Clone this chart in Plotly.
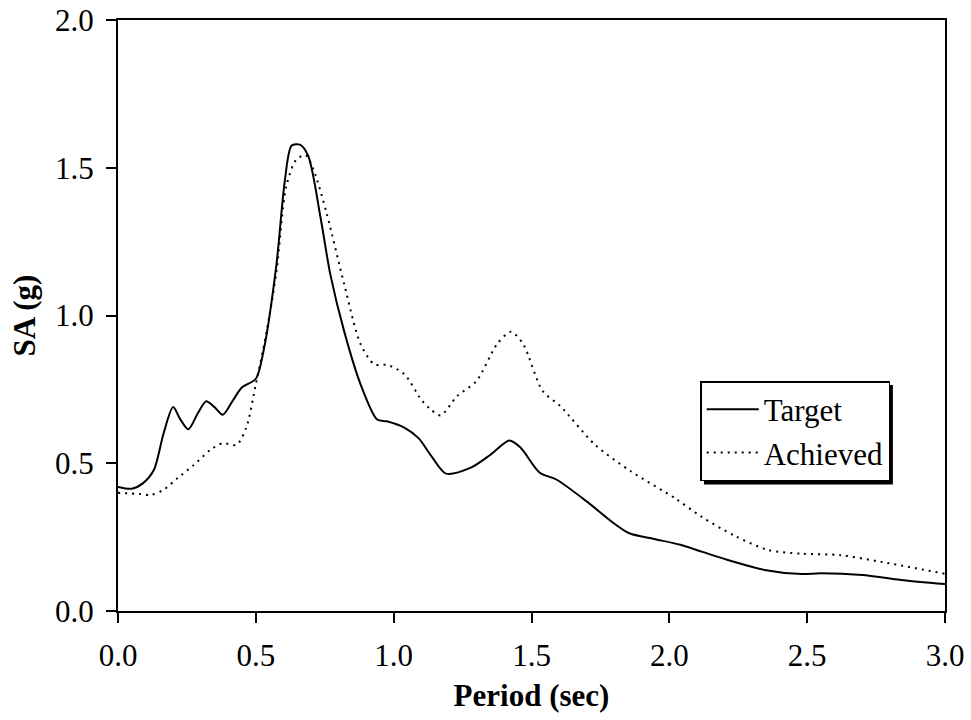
import plotly.graph_objects as go

# Target response spectrum (period in sec, spectral acceleration in g)
target_period = [0.0, 0.05, 0.09, 0.13, 0.165, 0.20, 0.225, 0.255, 0.29, 0.32, 0.35, 0.38,
                 0.415, 0.45, 0.50, 0.53, 0.575, 0.605, 0.63, 0.66, 0.69, 0.735, 0.77, 0.82,
                 0.88, 0.94, 0.975, 1.04, 1.09, 1.14, 1.19, 1.28, 1.35, 1.42, 1.46, 1.53,
                 1.59, 1.70, 1.79, 1.855, 1.945, 2.04, 2.12, 2.225, 2.345, 2.48, 2.55,
                 2.70, 2.84, 3.0]
target_sa = [0.42, 0.414, 0.432, 0.477, 0.60, 0.69, 0.65, 0.615, 0.67, 0.71, 0.69, 0.664,
             0.71, 0.757, 0.786, 0.89, 1.175, 1.455, 1.575, 1.578, 1.54, 1.33, 1.14, 0.948,
             0.767, 0.648, 0.642, 0.62, 0.585, 0.52, 0.465, 0.485, 0.528, 0.577, 0.553, 0.468,
             0.445, 0.371, 0.303, 0.263, 0.244, 0.224, 0.200, 0.169, 0.139, 0.125, 0.128,
             0.122, 0.105, 0.091]

# Achieved response spectrum
achieved_period = [0.0, 0.08, 0.12, 0.165, 0.215, 0.275, 0.335, 0.38, 0.43, 0.465, 0.50, 0.54,
                   0.575, 0.61, 0.645, 0.68, 0.71, 0.757, 0.82, 0.88, 0.93, 0.98, 1.04, 1.10,
                   1.13, 1.17, 1.23, 1.30, 1.375, 1.425, 1.47, 1.54, 1.605, 1.73, 1.86, 2.02,
                   2.115, 2.236, 2.36, 2.48, 2.62, 2.77, 3.0]
achieved_sa = [0.40, 0.396, 0.393, 0.41, 0.449, 0.494, 0.545, 0.568, 0.562, 0.62, 0.767, 0.95,
               1.15, 1.435, 1.525, 1.543, 1.492, 1.345, 1.108, 0.903, 0.835, 0.832, 0.80, 0.715,
               0.686, 0.662, 0.727, 0.778, 0.903, 0.945, 0.903, 0.745, 0.693, 0.563, 0.473, 0.382,
               0.32, 0.255, 0.206, 0.194, 0.189, 0.166, 0.126]

x_ticks = [0.0, 0.5, 1.0, 1.5, 2.0, 2.5, 3.0]
y_ticks = [0.0, 0.5, 1.0, 1.5, 2.0]

FONT = "Liberation Serif, Times New Roman, serif"

fig = go.Figure()
fig.add_trace(go.Scatter(
    x=target_period, y=target_sa, mode="lines", name="Target",
    line=dict(color="black", width=2, shape="spline", smoothing=0.8),
))
fig.add_trace(go.Scatter(
    x=achieved_period, y=achieved_sa, mode="lines", name="Achieved",
    line=dict(color="black", width=2, dash="2px,5px", shape="spline", smoothing=0.8),
))

# drop shadow behind the legend box
fig.add_shape(type="rect", xref="paper", yref="paper",
              x0=0.7086, x1=0.937, y0=0.214, y1=0.3824,
              fillcolor="black", line=dict(width=0), layer="above")

axis_common = dict(
    showline=True, linecolor="black", linewidth=2, mirror=True,
    ticks="outside", ticklen=10, tickwidth=1.5, tickcolor="black",
    showgrid=False, zeroline=False, tickformat=".1f", automargin=False,
    ticklabelstandoff=6,
    tickfont=dict(family=FONT, size=31, color="black"),
)

fig.update_layout(
    width=971, height=720,
    margin=dict(l=118, r=26, t=20, b=109),
    paper_bgcolor="white", plot_bgcolor="white",
    font=dict(family=FONT, size=31, color="black"),
    xaxis=dict(range=[0, 3], tickvals=x_ticks, **axis_common,
               title=dict(text="<b>Period (sec)</b>", standoff=12,
                          font=dict(family=FONT, size=31, color="black"))),
    yaxis=dict(range=[0, 2], tickvals=y_ticks, **axis_common,
               title=dict(text="<b>SA (g)</b>", standoff=10,
                          font=dict(family=FONT, size=31, color="black"))),
    legend=dict(x=0.704, y=0.389, xanchor="left", yanchor="top",
                bgcolor="white", bordercolor="black", borderwidth=1.5,
                font=dict(family=FONT, size=31, color="black"),
                tracegroupgap=0, itemwidth=52),
    showlegend=True,
)

fig.write_html("out.html")
